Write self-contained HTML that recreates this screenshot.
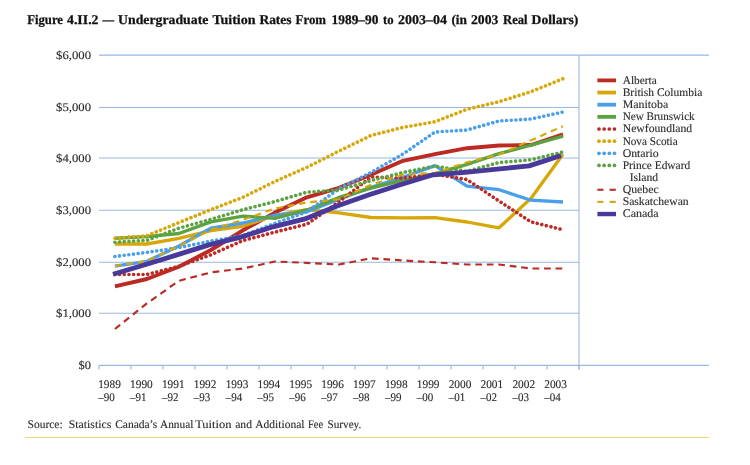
<!DOCTYPE html>
<html><head><meta charset="utf-8"><title>Figure 4.II.2</title>
<style>html,body{margin:0;padding:0;background:#fff}body{width:750px;height:465px;overflow:hidden}svg{display:block;will-change:transform;transform:translateZ(0)}text{text-rendering:geometricPrecision;font-family:"Liberation Serif","DejaVu Serif",serif;fill:#2b2b2b;stroke:#2b2b2b;stroke-width:0.12px}</style>
</head><body>
<svg width="750" height="465" viewBox="0 0 750 465">
<rect width="750" height="465" fill="#fff"/>
<g font-size="13.4" font-weight="bold" style="fill:#111">
<text x="27.2" y="24.2" textLength="35.8" lengthAdjust="spacingAndGlyphs" style="fill:#111;stroke:#111;stroke-width:0.25">Figure</text>
<text x="67" y="24.2" textLength="31.5" lengthAdjust="spacingAndGlyphs" style="fill:#111;stroke:#111;stroke-width:0.25">4.II.2</text>
<text x="102.4" y="24.2" textLength="11.6" lengthAdjust="spacingAndGlyphs" style="fill:#111;stroke:#111;stroke-width:0.25">—</text>
<text x="118" y="24.2" textLength="90.4" lengthAdjust="spacingAndGlyphs" style="fill:#111;stroke:#111;stroke-width:0.25">Undergraduate</text>
<text x="212.4" y="24.2" textLength="43.2" lengthAdjust="spacingAndGlyphs" style="fill:#111;stroke:#111;stroke-width:0.25">Tuition</text>
<text x="259.4" y="24.2" textLength="32.2" lengthAdjust="spacingAndGlyphs" style="fill:#111;stroke:#111;stroke-width:0.25">Rates</text>
<text x="295.6" y="24.2" textLength="30.4" lengthAdjust="spacingAndGlyphs" style="fill:#111;stroke:#111;stroke-width:0.25">From</text>
<text x="331.6" y="24.2" textLength="46.8" lengthAdjust="spacingAndGlyphs" style="fill:#111;stroke:#111;stroke-width:0.25">1989–90</text>
<text x="383" y="24.2" textLength="10.6" lengthAdjust="spacingAndGlyphs" style="fill:#111;stroke:#111;stroke-width:0.25">to</text>
<text x="398" y="24.2" textLength="49.0" lengthAdjust="spacingAndGlyphs" style="fill:#111;stroke:#111;stroke-width:0.25">2003–04</text>
<text x="451.4" y="24.2" textLength="15.6" lengthAdjust="spacingAndGlyphs" style="fill:#111;stroke:#111;stroke-width:0.25">(in</text>
<text x="471" y="24.2" textLength="27.4" lengthAdjust="spacingAndGlyphs" style="fill:#111;stroke:#111;stroke-width:0.25">2003</text>
<text x="503" y="24.2" textLength="24.6" lengthAdjust="spacingAndGlyphs" style="fill:#111;stroke:#111;stroke-width:0.25">Real</text>
<text x="531.6" y="24.2" textLength="46.8" lengthAdjust="spacingAndGlyphs" style="fill:#111;stroke:#111;stroke-width:0.25">Dollars)</text>
</g>
<line x1="99" y1="365.40" x2="709" y2="365.40" stroke="#98b7e2" stroke-width="1.1"/>
<text x="91" y="369.30" font-size="11.6" text-anchor="end" textLength="12.5" lengthAdjust="spacingAndGlyphs">$0</text>
<line x1="99" y1="313.20" x2="579" y2="313.20" stroke="#98b7e2" stroke-width="1.1"/>
<text x="91" y="317.10" font-size="11.6" text-anchor="end" textLength="34.9" lengthAdjust="spacingAndGlyphs">$1,000</text>
<line x1="99" y1="262.30" x2="579" y2="262.30" stroke="#98b7e2" stroke-width="1.1"/>
<text x="91" y="266.20" font-size="11.6" text-anchor="end" textLength="34.9" lengthAdjust="spacingAndGlyphs">$2,000</text>
<line x1="99" y1="210.30" x2="579" y2="210.30" stroke="#98b7e2" stroke-width="1.1"/>
<text x="91" y="214.20" font-size="11.6" text-anchor="end" textLength="34.9" lengthAdjust="spacingAndGlyphs">$3,000</text>
<line x1="99" y1="158.00" x2="579" y2="158.00" stroke="#98b7e2" stroke-width="1.1"/>
<text x="91" y="161.90" font-size="11.6" text-anchor="end" textLength="34.9" lengthAdjust="spacingAndGlyphs">$4,000</text>
<line x1="99" y1="107.55" x2="579" y2="107.55" stroke="#98b7e2" stroke-width="1.1"/>
<text x="91" y="111.45" font-size="11.6" text-anchor="end" textLength="34.9" lengthAdjust="spacingAndGlyphs">$5,000</text>
<line x1="99" y1="55.10" x2="709" y2="55.10" stroke="#98b7e2" stroke-width="1.1"/>
<text x="91" y="59.00" font-size="11.6" text-anchor="end" textLength="34.9" lengthAdjust="spacingAndGlyphs">$6,000</text>
<line x1="579" y1="55.1" x2="579" y2="369.5" stroke="#98b7e2" stroke-width="1.1"/>
<line x1="98.90" y1="365.4" x2="98.90" y2="369.5" stroke="#98b7e2" stroke-width="1.1"/>
<line x1="130.91" y1="365.4" x2="130.91" y2="369.5" stroke="#98b7e2" stroke-width="1.1"/>
<line x1="162.91" y1="365.4" x2="162.91" y2="369.5" stroke="#98b7e2" stroke-width="1.1"/>
<line x1="194.92" y1="365.4" x2="194.92" y2="369.5" stroke="#98b7e2" stroke-width="1.1"/>
<line x1="226.93" y1="365.4" x2="226.93" y2="369.5" stroke="#98b7e2" stroke-width="1.1"/>
<line x1="258.93" y1="365.4" x2="258.93" y2="369.5" stroke="#98b7e2" stroke-width="1.1"/>
<line x1="290.94" y1="365.4" x2="290.94" y2="369.5" stroke="#98b7e2" stroke-width="1.1"/>
<line x1="322.95" y1="365.4" x2="322.95" y2="369.5" stroke="#98b7e2" stroke-width="1.1"/>
<line x1="354.95" y1="365.4" x2="354.95" y2="369.5" stroke="#98b7e2" stroke-width="1.1"/>
<line x1="386.96" y1="365.4" x2="386.96" y2="369.5" stroke="#98b7e2" stroke-width="1.1"/>
<line x1="418.97" y1="365.4" x2="418.97" y2="369.5" stroke="#98b7e2" stroke-width="1.1"/>
<line x1="450.97" y1="365.4" x2="450.97" y2="369.5" stroke="#98b7e2" stroke-width="1.1"/>
<line x1="482.98" y1="365.4" x2="482.98" y2="369.5" stroke="#98b7e2" stroke-width="1.1"/>
<line x1="514.99" y1="365.4" x2="514.99" y2="369.5" stroke="#98b7e2" stroke-width="1.1"/>
<line x1="546.99" y1="365.4" x2="546.99" y2="369.5" stroke="#98b7e2" stroke-width="1.1"/>
<line x1="579.00" y1="365.4" x2="579.00" y2="369.5" stroke="#98b7e2" stroke-width="1.1"/>
<text x="98.20" y="387.6" font-size="11.6" textLength="22.7" lengthAdjust="spacingAndGlyphs">1989</text>
<text x="98.20" y="400.7" font-size="11.6" textLength="16.5" lengthAdjust="spacingAndGlyphs">–90</text>
<text x="130.06" y="387.6" font-size="11.6" textLength="22.7" lengthAdjust="spacingAndGlyphs">1990</text>
<text x="130.06" y="400.7" font-size="11.6" textLength="16.5" lengthAdjust="spacingAndGlyphs">–91</text>
<text x="161.92" y="387.6" font-size="11.6" textLength="22.7" lengthAdjust="spacingAndGlyphs">1991</text>
<text x="161.92" y="400.7" font-size="11.6" textLength="16.5" lengthAdjust="spacingAndGlyphs">–92</text>
<text x="193.78" y="387.6" font-size="11.6" textLength="22.7" lengthAdjust="spacingAndGlyphs">1992</text>
<text x="193.78" y="400.7" font-size="11.6" textLength="16.5" lengthAdjust="spacingAndGlyphs">–93</text>
<text x="225.64" y="387.6" font-size="11.6" textLength="22.7" lengthAdjust="spacingAndGlyphs">1993</text>
<text x="225.64" y="400.7" font-size="11.6" textLength="16.5" lengthAdjust="spacingAndGlyphs">–94</text>
<text x="257.50" y="387.6" font-size="11.6" textLength="22.7" lengthAdjust="spacingAndGlyphs">1994</text>
<text x="257.50" y="400.7" font-size="11.6" textLength="16.5" lengthAdjust="spacingAndGlyphs">–95</text>
<text x="289.36" y="387.6" font-size="11.6" textLength="22.7" lengthAdjust="spacingAndGlyphs">1995</text>
<text x="289.36" y="400.7" font-size="11.6" textLength="16.5" lengthAdjust="spacingAndGlyphs">–96</text>
<text x="321.22" y="387.6" font-size="11.6" textLength="22.7" lengthAdjust="spacingAndGlyphs">1996</text>
<text x="321.22" y="400.7" font-size="11.6" textLength="16.5" lengthAdjust="spacingAndGlyphs">–97</text>
<text x="353.08" y="387.6" font-size="11.6" textLength="22.7" lengthAdjust="spacingAndGlyphs">1997</text>
<text x="353.08" y="400.7" font-size="11.6" textLength="16.5" lengthAdjust="spacingAndGlyphs">–98</text>
<text x="384.94" y="387.6" font-size="11.6" textLength="22.7" lengthAdjust="spacingAndGlyphs">1998</text>
<text x="384.94" y="400.7" font-size="11.6" textLength="16.5" lengthAdjust="spacingAndGlyphs">–99</text>
<text x="416.80" y="387.6" font-size="11.6" textLength="22.7" lengthAdjust="spacingAndGlyphs">1999</text>
<text x="416.80" y="400.7" font-size="11.6" textLength="16.5" lengthAdjust="spacingAndGlyphs">–00</text>
<text x="448.66" y="387.6" font-size="11.6" textLength="22.7" lengthAdjust="spacingAndGlyphs">2000</text>
<text x="448.66" y="400.7" font-size="11.6" textLength="16.5" lengthAdjust="spacingAndGlyphs">–01</text>
<text x="480.52" y="387.6" font-size="11.6" textLength="22.7" lengthAdjust="spacingAndGlyphs">2001</text>
<text x="480.52" y="400.7" font-size="11.6" textLength="16.5" lengthAdjust="spacingAndGlyphs">–02</text>
<text x="512.38" y="387.6" font-size="11.6" textLength="22.7" lengthAdjust="spacingAndGlyphs">2002</text>
<text x="512.38" y="400.7" font-size="11.6" textLength="16.5" lengthAdjust="spacingAndGlyphs">–03</text>
<text x="544.24" y="387.6" font-size="11.6" textLength="22.7" lengthAdjust="spacingAndGlyphs">2003</text>
<text x="544.24" y="400.7" font-size="11.6" textLength="16.5" lengthAdjust="spacingAndGlyphs">–04</text>
<polyline points="114.9,286.3 146.9,279.0 178.9,266.7 210.9,250.0 242.9,230.3 274.9,212.6 306.9,197.3 339.0,187.8 371.0,174.8 403.0,160.8 435.0,154.2 467.0,148.2 499.0,145.5 531.0,145.0 563.0,134.4" fill="none" stroke="#bb2b23" stroke-width="3.9" stroke-linejoin="round" stroke-linecap="butt"/>
<polyline points="114.9,244.0 146.9,244.0 178.9,238.4 210.9,230.6 242.9,226.3 274.9,215.3 306.9,209.7 339.0,212.9 371.0,217.5 403.0,217.8 435.0,217.6 467.0,222.0 499.0,227.8 531.0,198.3 563.0,154.3" fill="none" stroke="#d7a708" stroke-width="3.3" stroke-linejoin="round" stroke-linecap="butt"/>
<polyline points="114.9,266.1 146.9,261.3 178.9,246.0 210.9,228.2 242.9,223.0 274.9,215.3 306.9,211.8 339.0,199.2 371.0,187.4 403.0,177.3 435.0,165.6 467.0,186.2 499.0,189.7 531.0,200.2 563.0,202.0" fill="none" stroke="#499fe9" stroke-width="3.3" stroke-linejoin="round" stroke-linecap="butt"/>
<polyline points="114.9,238.2 146.9,236.6 178.9,233.5 210.9,221.8 242.9,216.1 274.9,218.4 306.9,210.0 339.0,197.5 371.0,188.0 403.0,180.3 435.0,174.0 467.0,164.4 499.0,153.7 531.0,145.2 563.0,136.2" fill="none" stroke="#5ca241" stroke-width="3.4" stroke-linejoin="round" stroke-linecap="butt"/>
<polyline points="114.9,274.5 146.9,274.5 178.9,266.3 210.9,254.8 242.9,240.6 274.9,232.1 306.9,224.2 339.0,201.8 371.0,177.0 403.0,178.2 435.0,174.2 467.0,179.6 499.0,201.0 531.0,221.9 563.0,229.8" fill="none" stroke="#bb2b23" stroke-width="3.6" stroke-linejoin="round" stroke-linecap="round" stroke-dasharray="0.01 4.68"/>
<polyline points="114.9,238.2 146.9,235.8 178.9,222.6 210.9,209.7 242.9,197.3 274.9,181.5 306.9,167.3 339.0,151.1 371.0,135.5 403.0,127.4 435.0,121.7 467.0,109.3 499.0,101.7 531.0,91.7 563.0,78.7" fill="none" stroke="#d7a708" stroke-width="3.6" stroke-linejoin="round" stroke-linecap="round" stroke-dasharray="0.01 4.68"/>
<polyline points="114.9,256.5 146.9,252.4 178.9,247.6 210.9,241.1 242.9,235.5 274.9,223.4 306.9,211.8 339.0,188.7 371.0,172.5 403.0,154.0 435.0,132.0 467.0,130.0 499.0,121.0 531.0,119.0 563.0,112.0" fill="none" stroke="#499fe9" stroke-width="3.6" stroke-linejoin="round" stroke-linecap="round" stroke-dasharray="0.01 4.68"/>
<polyline points="114.9,242.2 146.9,240.3 178.9,228.2 210.9,219.4 242.9,209.7 274.9,201.6 306.9,192.2 339.0,190.0 371.0,180.6 403.0,172.5 435.0,166.1 467.0,171.4 499.0,162.5 531.0,159.8 563.0,152.0" fill="none" stroke="#5ca241" stroke-width="3.6" stroke-linejoin="round" stroke-linecap="round" stroke-dasharray="0.01 4.68"/>
<polyline points="114.9,329.0 146.9,303.4 178.9,280.8 210.9,272.4 242.9,268.5 274.9,261.5 306.9,262.9 339.0,264.5 371.0,258.3 403.0,260.5 435.0,262.3 467.0,264.5 499.0,264.5 531.0,268.5 563.0,268.5" fill="none" stroke="#bb2b23" stroke-width="2.15" stroke-linejoin="round" stroke-linecap="butt" stroke-dasharray="6.7 4.8"/>
<polyline points="114.9,266.1 146.9,261.0 178.9,246.0 210.9,229.8 242.9,219.8 274.9,208.5 306.9,202.4 339.0,199.2 371.0,184.7 403.0,174.5 435.0,173.0 467.0,162.2 499.0,154.6 531.0,140.3 563.0,126.2" fill="none" stroke="#d7a708" stroke-width="2.15" stroke-linejoin="round" stroke-linecap="butt" stroke-dasharray="6.7 4.8"/>
<polyline points="113.0,274.3 145.0,264.7 177.0,254.9 209.0,244.9 241.0,237.1 273.0,226.8 305.0,218.9 337.1,206.0 369.1,194.7 401.1,184.5 433.1,174.8 465.1,172.3 497.1,169.1 529.1,165.9 561.1,155.5" fill="none" stroke="#49399a" stroke-width="4.8" stroke-linejoin="round" stroke-linecap="butt"/>
<line x1="597.4" y1="80.40" x2="616" y2="80.40" stroke="#bb2b23" stroke-width="3.8"/>
<text x="622.7" y="83.80" font-size="11.6" textLength="34" lengthAdjust="spacingAndGlyphs">Alberta</text>
<line x1="597.4" y1="92.55" x2="616" y2="92.55" stroke="#d7a708" stroke-width="3.8"/>
<text x="622.7" y="95.95" font-size="11.6" textLength="79.6" lengthAdjust="spacingAndGlyphs">British Columbia</text>
<line x1="597.4" y1="104.70" x2="616" y2="104.70" stroke="#499fe9" stroke-width="3.8"/>
<text x="622.7" y="108.10" font-size="11.6" textLength="45.5" lengthAdjust="spacingAndGlyphs">Manitoba</text>
<line x1="597.4" y1="116.85" x2="616" y2="116.85" stroke="#5ca241" stroke-width="3.8"/>
<text x="622.7" y="120.25" font-size="11.6" textLength="72" lengthAdjust="spacingAndGlyphs">New Brunswick</text>
<circle cx="599.00" cy="129.00" r="1.85" fill="#bb2b23"/>
<circle cx="604.15" cy="129.00" r="1.85" fill="#bb2b23"/>
<circle cx="609.30" cy="129.00" r="1.85" fill="#bb2b23"/>
<circle cx="614.45" cy="129.00" r="1.85" fill="#bb2b23"/>
<text x="622.7" y="132.40" font-size="11.6" textLength="69.5" lengthAdjust="spacingAndGlyphs">Newfoundland</text>
<circle cx="599.00" cy="141.15" r="1.85" fill="#d7a708"/>
<circle cx="604.15" cy="141.15" r="1.85" fill="#d7a708"/>
<circle cx="609.30" cy="141.15" r="1.85" fill="#d7a708"/>
<circle cx="614.45" cy="141.15" r="1.85" fill="#d7a708"/>
<text x="622.7" y="144.55" font-size="11.6" textLength="55" lengthAdjust="spacingAndGlyphs">Nova Scotia</text>
<circle cx="599.00" cy="153.30" r="1.85" fill="#499fe9"/>
<circle cx="604.15" cy="153.30" r="1.85" fill="#499fe9"/>
<circle cx="609.30" cy="153.30" r="1.85" fill="#499fe9"/>
<circle cx="614.45" cy="153.30" r="1.85" fill="#499fe9"/>
<text x="622.7" y="156.70" font-size="11.6" textLength="36" lengthAdjust="spacingAndGlyphs">Ontario</text>
<circle cx="599.00" cy="165.45" r="1.85" fill="#5ca241"/>
<circle cx="604.15" cy="165.45" r="1.85" fill="#5ca241"/>
<circle cx="609.30" cy="165.45" r="1.85" fill="#5ca241"/>
<circle cx="614.45" cy="165.45" r="1.85" fill="#5ca241"/>
<text x="622.7" y="168.85" font-size="11.6" textLength="67.5" lengthAdjust="spacingAndGlyphs">Prince Edward</text>
<line x1="597.4" y1="189.75" x2="603.4" y2="189.75" stroke="#bb2b23" stroke-width="2.1"/>
<line x1="609.6" y1="189.75" x2="615.8" y2="189.75" stroke="#bb2b23" stroke-width="2.1"/>
<text x="622.7" y="193.15" font-size="11.6" textLength="36" lengthAdjust="spacingAndGlyphs">Quebec</text>
<line x1="597.4" y1="201.90" x2="603.4" y2="201.90" stroke="#d7a708" stroke-width="2.1"/>
<line x1="609.6" y1="201.90" x2="615.8" y2="201.90" stroke="#d7a708" stroke-width="2.1"/>
<text x="622.7" y="205.30" font-size="11.6" textLength="66" lengthAdjust="spacingAndGlyphs">Saskatchewan</text>
<line x1="597.4" y1="214.05" x2="616" y2="214.05" stroke="#49399a" stroke-width="4.4"/>
<text x="622.7" y="217.45" font-size="11.6" textLength="36" lengthAdjust="spacingAndGlyphs">Canada</text>
<text x="629.7" y="181.00" font-size="11.6" textLength="28.5" lengthAdjust="spacingAndGlyphs">Island</text>
<g font-size="11.5">
<text x="27.5" y="427.9" textLength="35.2" lengthAdjust="spacingAndGlyphs">Source:</text>
<text x="68.8" y="427.9" textLength="42.4" lengthAdjust="spacingAndGlyphs">Statistics</text>
<text x="115.2" y="427.9" textLength="42.1" lengthAdjust="spacingAndGlyphs">Canada’s</text>
<text x="160" y="427.9" textLength="33.3" lengthAdjust="spacingAndGlyphs">Annual</text>
<text x="195.2" y="427.9" textLength="36.3" lengthAdjust="spacingAndGlyphs">Tuition</text>
<text x="235.2" y="427.9" textLength="16.8" lengthAdjust="spacingAndGlyphs">and</text>
<text x="255.2" y="427.9" textLength="49.3" lengthAdjust="spacingAndGlyphs">Additional</text>
<text x="308" y="427.9" textLength="15.2" lengthAdjust="spacingAndGlyphs">Fee</text>
<text x="327.5" y="427.9" textLength="33.8" lengthAdjust="spacingAndGlyphs">Survey.</text>
</g>
<line x1="25.3" y1="437.4" x2="709" y2="437.4" stroke="#ecd572" stroke-width="1.05"/>
</svg></body></html>
